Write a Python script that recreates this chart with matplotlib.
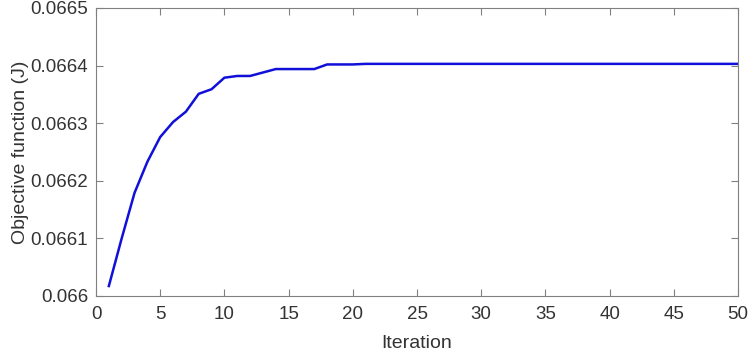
import matplotlib
matplotlib.use("Agg")
import matplotlib.pyplot as plt
import numpy as np

iterations = list(range(1, 51))
objective = [0.0660173, 0.066100, 0.066179, 0.066233, 0.066276, 0.066302, 0.066320,
             0.066351, 0.066359, 0.066379, 0.066382, 0.066382, 0.066388, 0.066394,
             0.066394, 0.066394, 0.066394, 0.066402, 0.066402, 0.066402, 0.066403] + [0.066403] * 29
x_ticks = [0, 5, 10, 15, 20, 25, 30, 35, 40, 45, 50]
y_ticks = [0.066, 0.0661, 0.0662, 0.0663, 0.0664, 0.0665]
y_labels = ["0.066", "0.0661", "0.0662", "0.0663", "0.0664", "0.0665"]

plt.rcParams['font.family'] = ['Liberation Sans', 'DejaVu Sans']
fig = plt.figure(figsize=(7.49, 3.58), dpi=100)
ax = fig.add_axes([96/749, 1-296/358, (738-96)/749, (296-8)/358])
ax.plot(iterations, objective, color='#1010d8', linewidth=1.8)
ax.set_xlim(0, 50)
ax.set_ylim(0.066, 0.0665)
ax.set_xticks(x_ticks)
ax.set_yticks(y_ticks)
ax.set_yticklabels(y_labels)
ax.tick_params(direction='in', top=True, right=True, length=5, color='#808080',
               labelsize=13.5, labelcolor='#333333')
ax.tick_params(axis='x', pad=7)
ax.tick_params(axis='y', pad=5.5)
for s in ax.spines.values():
    s.set_color('#808080')
ax.set_xlabel('Iteration', fontsize=14, color='#333333', labelpad=9)
ax.set_ylabel('Objective function (J)', fontsize=14, color='#333333', labelpad=1)
fig.savefig('out.png', dpi=100)
